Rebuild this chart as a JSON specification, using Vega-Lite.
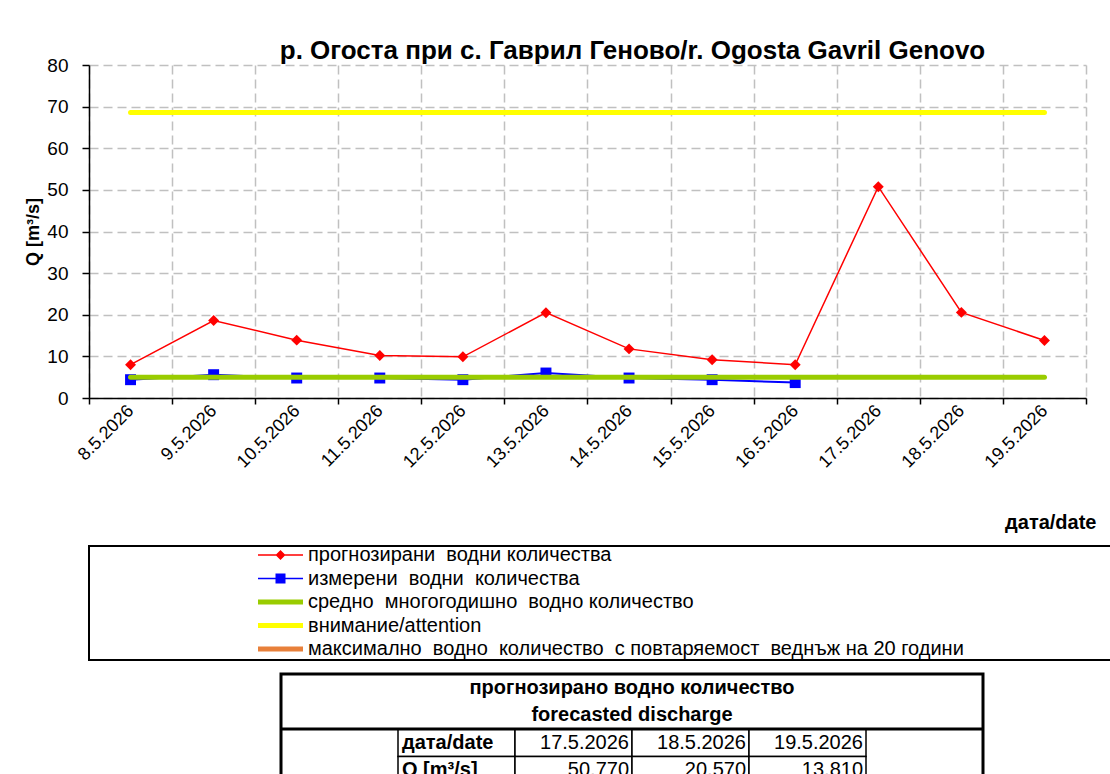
{
  "$schema": "https://vega.github.io/schema/vega-lite/v6.json",
  "background": "white",
  "padding": {"left": 24, "top": 38, "right": 5, "bottom": 0},
  "spacing": 11,
  "resolve": {"scale": {"color": "independent", "shape": "independent"}},
  "config": {"font": "Liberation Sans", "view": {"stroke": null}},
  "vconcat": [
    {
      "hconcat": [
        {
          "width": 997,
          "height": 333,
          "title": {"text": "р. Огоста при с. Гаврил Геново/r. Ogosta Gavril Genovo", "fontSize": 26, "fontWeight": "bold", "font": "Liberation Sans", "color": "black", "anchor": "middle", "dx": 45, "offset": -8},
          "data": {"values": [
            {"date": "8.5.2026", "forecast": 8.0, "measured": 4.4, "mean": 5.0, "attention": 68.6},
            {"date": "9.5.2026", "forecast": 18.6, "measured": 5.6, "mean": 5.0, "attention": 68.6},
            {"date": "10.5.2026", "forecast": 13.9, "measured": 4.8, "mean": 5.0, "attention": 68.6},
            {"date": "11.5.2026", "forecast": 10.2, "measured": 4.8, "mean": 5.0, "attention": 68.6},
            {"date": "12.5.2026", "forecast": 9.9, "measured": 4.4, "mean": 5.0, "attention": 68.6},
            {"date": "13.5.2026", "forecast": 20.5, "measured": 6.0, "mean": 5.0, "attention": 68.6},
            {"date": "14.5.2026", "forecast": 11.8, "measured": 4.8, "mean": 5.0, "attention": 68.6},
            {"date": "15.5.2026", "forecast": 9.2, "measured": 4.4, "mean": 5.0, "attention": 68.6},
            {"date": "16.5.2026", "forecast": 8.0, "measured": 3.7, "mean": 5.0, "attention": 68.6},
            {"date": "17.5.2026", "forecast": 50.77, "measured": null, "mean": 5.0, "attention": 68.6},
            {"date": "18.5.2026", "forecast": 20.57, "measured": null, "mean": 5.0, "attention": 68.6},
            {"date": "19.5.2026", "forecast": 13.81, "measured": null, "mean": 5.0, "attention": 68.6}
          ]},
          "transform": [
            {"fold": ["forecast", "measured", "mean", "attention"], "as": ["series", "value"]},
            {"filter": "isValid(datum.value)"}
          ],
          "encoding": {
            "x": {
              "field": "date", "type": "ordinal", "title": "дата/date",
              "scale": {"domain": ["8.5.2026","9.5.2026","10.5.2026","11.5.2026","12.5.2026","13.5.2026","14.5.2026","15.5.2026","16.5.2026","17.5.2026","18.5.2026","19.5.2026"], "paddingInner": 0, "paddingOuter": 0},
              "axis": {"tickBand": "extent", "labelAngle": -45, "labelAlign": "right", "labelBaseline": "middle", "labelFontSize": 18, "labelColor": "black", "labelPadding": 4, "tickSize": 6, "tickColor": "black", "tickWidth": 1.5, "domainColor": "black", "domainWidth": 1.5, "grid": true, "gridColor": "#c0c0c0", "gridDash": [9, 5], "gridWidth": 1.5, "titleFontSize": 20, "titleFontWeight": "bold", "titleColor": "black", "titleAnchor": "end", "titleAlign": "right", "titleX": 1007, "titlePadding": 42}
            },
            "y": {
              "field": "value", "type": "quantitative", "title": "Q [m³/s]",
              "scale": {"domain": [0, 80]},
              "axis": {"values": [0,10,20,30,40,50,60,70,80], "labelFontSize": 19, "labelColor": "black", "labelPadding": 14, "tickSize": 7, "tickColor": "black", "tickWidth": 1.5, "domainColor": "black", "domainWidth": 1.5, "grid": true, "gridColor": "#c0c0c0", "gridDash": [9, 5], "gridWidth": 1.5, "titleFontSize": 18, "titleFontWeight": "bold", "titleColor": "black", "titlePadding": 4}
            },
            "color": {
              "field": "series", "type": "nominal", "legend": null,
              "scale": {"domain": ["forecast", "measured", "mean", "attention", "max20"], "range": ["#ff0000", "#0000ff", "#99cc00", "#ffff00", "#e8803a"]}
            }
          },
          "layer": [
            {"transform": [{"filter": "datum.series === 'measured'"}], "mark": {"type": "line", "strokeWidth": 2}},
            {"transform": [{"filter": "datum.series === 'measured'"}], "mark": {"type": "point", "shape": "square", "filled": true, "size": 120, "opacity": 1}},
            {"transform": [{"filter": "datum.series === 'mean' || datum.series === 'attention'"}], "mark": {"type": "line", "strokeWidth": 5, "strokeCap": "round"}},
            {"transform": [{"filter": "datum.series === 'forecast'"}], "mark": {"type": "line", "strokeWidth": 1.5}},
            {"transform": [{"filter": "datum.series === 'forecast'"}], "mark": {"type": "point", "shape": "diamond", "filled": true, "size": 120, "opacity": 1}}
          ]
        }
      ]
    },
    {
      "width": 1078,
      "height": 114,
      "view": {"stroke": "black", "strokeWidth": 2},
      "data": {"values": [
        {"series": "прогнозирани\u00a0 водни количества"},
        {"series": "измерени\u00a0 водни\u00a0 количества"},
        {"series": "средно\u00a0 многогодишно\u00a0 водно количество"},
        {"series": "внимание/attention"},
        {"series": "максимално\u00a0 водно\u00a0 количество\u00a0 с повтаряемост\u00a0 веднъж на 20 години"}
      ]},
      "transform": [{"filter": "datum.series === 'none'"}],
      "mark": {"type": "point", "filled": true},
      "encoding": {
        "color": {
          "field": "series", "type": "nominal",
          "scale": {
            "domain": ["прогнозирани\u00a0 водни количества", "измерени\u00a0 водни\u00a0 количества", "средно\u00a0 многогодишно\u00a0 водно количество", "внимание/attention", "максимално\u00a0 водно\u00a0 количество\u00a0 с повтаряемост\u00a0 веднъж на 20 години"],
            "range": ["#ff0000", "#0000ff", "#99cc00", "#ffff00", "#e8803a"]
          },
          "legend": {
            "orient": "none", "legendX": 164, "legendY": -1, "title": null, "direction": "vertical",
            "labelFont": "Liberation Sans", "labelFontSize": 20, "labelColor": "black",
            "labelOffset": 35, "rowPadding": 3.5, "symbolSize": 100, "labelLimit": 1000, "symbolOpacity": 1
          }
        },
        "shape": {
          "field": "series", "type": "nominal",
          "scale": {
            "domain": ["прогнозирани\u00a0 водни количества", "измерени\u00a0 водни\u00a0 количества", "средно\u00a0 многогодишно\u00a0 водно количество", "внимание/attention", "максимално\u00a0 водно\u00a0 количество\u00a0 с повтаряемост\u00a0 веднъж на 20 години"],
            "range": [
              "M-1,-0.15H8V0.15H-1ZM3.5,-1L4.5,0L3.5,1L2.5,0Z",
              "M-1,-0.15H8V0.15H-1ZM2.5,-1H4.5V1H2.5Z",
              "M-1,-0.5H8V0.5H-1Z",
              "M-1,-0.5H8V0.5H-1Z",
              "M-1,-0.5H8V0.5H-1Z"
            ]
          },
          "legend": {
            "orient": "none", "legendX": 164, "legendY": -1, "title": null, "direction": "vertical",
            "labelFont": "Liberation Sans", "labelFontSize": 20, "labelColor": "black",
            "labelOffset": 35, "rowPadding": 3.5, "symbolSize": 100, "labelLimit": 1000, "symbolOpacity": 1
          }
        }
      }
    },
    {
      "spacing": 0,
      "hconcat": [
        {
          "width": 189,
          "height": 10,
          "view": {"fill": "white", "stroke": null},
          "data": {"values": [{"a": 1}]},
          "transform": [{"filter": "datum.a === 0"}],
          "mark": "point"
        },
        {
          "width": 702,
          "height": 110,
          "view": {"stroke": "black", "strokeWidth": 3},
          "data": {"values": [
            {"kind": "title", "row": "t1", "text": "прогнозирано водно количество"},
            {"kind": "title", "row": "t2", "text": "forecasted discharge"},
            {"kind": "label", "row": "r1", "col": "lab", "text": "дата/date"},
            {"kind": "value", "row": "r1", "col": "d1", "text": "17.5.2026"},
            {"kind": "value", "row": "r1", "col": "d2", "text": "18.5.2026"},
            {"kind": "value", "row": "r1", "col": "d3", "text": "19.5.2026"},
            {"kind": "label", "row": "r2", "col": "lab", "text": "Q [m³/s]"},
            {"kind": "value", "row": "r2", "col": "d1", "text": "50.770"},
            {"kind": "value", "row": "r2", "col": "d2", "text": "20.570"},
            {"kind": "value", "row": "r2", "col": "d3", "text": "13.810"}
          ]},
          "layer": [
            {
              "transform": [{"filter": "datum.kind !== 'title'"}],
              "mark": {"type": "rect", "fill": "white", "stroke": "black", "strokeWidth": 1.5},
              "encoding": {
                "x": {"field": "col", "type": "ordinal", "scale": {"domain": ["c0", "lab", "d1", "d2", "d3", "c5"], "paddingInner": 0, "paddingOuter": 0}, "axis": null},
                "y": {"field": "row", "type": "ordinal", "scale": {"domain": ["t1", "t2", "r1", "r2"], "paddingInner": 0, "paddingOuter": 0}, "axis": null}
              }
            },
            {
              "transform": [{"filter": "datum.row === 't2'"}],
              "mark": {"type": "rule", "stroke": "black", "strokeWidth": 3},
              "encoding": {
                "y": {"field": "row", "type": "ordinal", "bandPosition": 1}
              }
            },
            {
              "transform": [{"filter": "datum.kind === 'title'"}],
              "mark": {"type": "text", "fontSize": 20, "fontWeight": "bold", "color": "black"},
              "encoding": {
                "y": {"field": "row", "type": "ordinal"},
                "text": {"field": "text"}
              }
            },
            {
              "transform": [{"filter": "datum.kind === 'label'"}],
              "mark": {"type": "text", "fontSize": 20, "fontWeight": "bold", "color": "black", "align": "left", "dx": 4},
              "encoding": {
                "x": {"field": "col", "type": "ordinal", "bandPosition": 0},
                "y": {"field": "row", "type": "ordinal"},
                "text": {"field": "text"}
              }
            },
            {
              "transform": [{"filter": "datum.kind === 'value'"}],
              "mark": {"type": "text", "fontSize": 20, "color": "black", "align": "right", "dx": -3},
              "encoding": {
                "x": {"field": "col", "type": "ordinal", "bandPosition": 1},
                "y": {"field": "row", "type": "ordinal"},
                "text": {"field": "text"}
              }
            }
          ]
        }
      ]
    }
  ]
}
